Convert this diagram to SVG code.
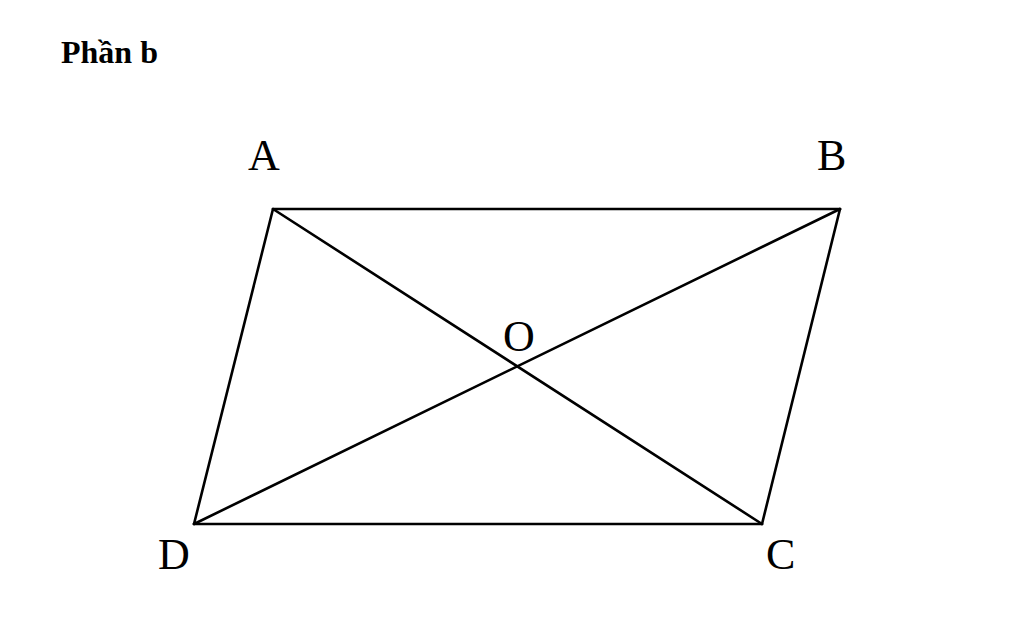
<svg xmlns="http://www.w3.org/2000/svg" width="1024" height="641" viewBox="0 0 1024 641">
<style>
.lbl{font-family:"Liberation Serif","Times New Roman",serif;font-size:44px;fill:#000}
.edge{stroke:#000;stroke-width:2.6;fill:none;stroke-linecap:round}
</style>
<rect width="1024" height="641" fill="#fff"/>
<text x="61" y="63" font-family="Liberation Serif, serif" font-weight="bold" font-size="32" fill="#000">Phần b</text>
<g id="connectors">
<line class="edge" x1="273" y1="209" x2="840" y2="209"/>
<line class="edge" x1="840" y1="209" x2="762" y2="524"/>
<line class="edge" x1="762" y1="524" x2="194" y2="524"/>
<line class="edge" x1="194" y1="524" x2="273" y2="209"/>
<line class="edge" x1="273" y1="209" x2="762" y2="524"/>
<line class="edge" x1="840" y1="209" x2="194" y2="524"/>
</g>
<g id="A"><text class="lbl" x="248" y="170">A</text></g>
<g id="B"><text class="lbl" x="817" y="170">B</text></g>
<g id="O"><text class="lbl" x="503" y="351" font-size="38">O</text></g>
<g id="D"><text class="lbl" x="158" y="569">D</text></g>
<g id="C"><text class="lbl" x="766" y="569">C</text></g>
</svg>
